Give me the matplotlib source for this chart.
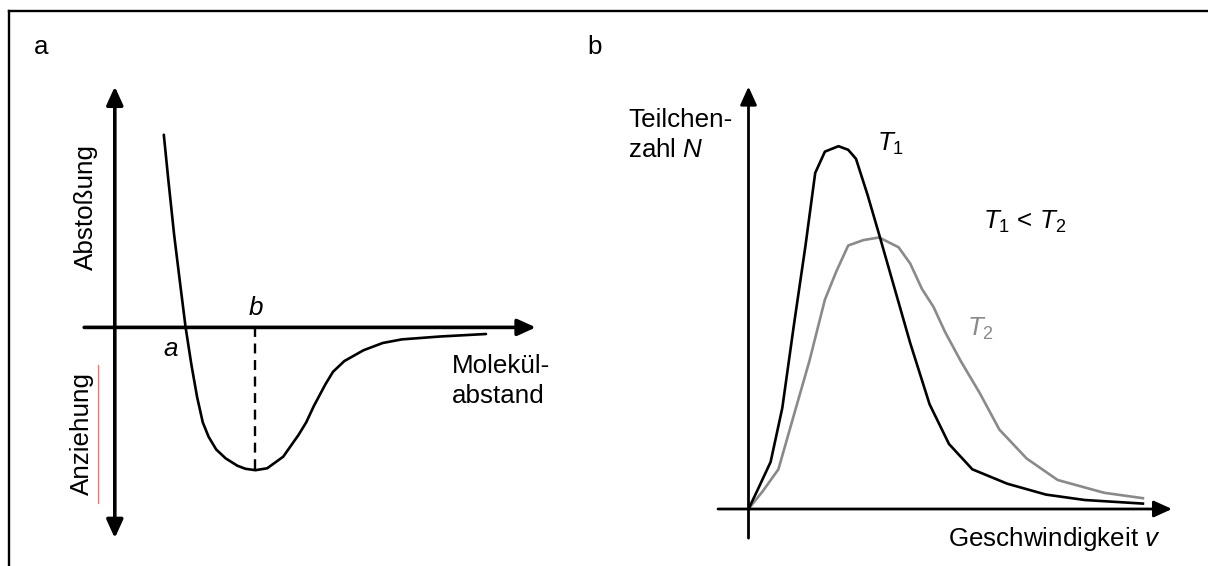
import matplotlib
matplotlib.use("Agg")
import matplotlib.pyplot as plt
from matplotlib.lines import Line2D

plt.rcParams["font.family"] = ["Liberation Sans", "DejaVu Sans"]
plt.rcParams["mathtext.fontset"] = "custom"
plt.rcParams["mathtext.rm"] = "Liberation Sans"
plt.rcParams["mathtext.it"] = "Liberation Sans:italic"

# ---- Panel a: potential energy versus molecular distance (arbitrary units)
r_pot = [1.164, 1.273, 1.409, 1.546, 1.682, 1.819, 1.955, 2.090, 2.228, 2.409,
         2.637, 2.910, 3.10, 3.34, 3.62, 4.000, 4.363, 4.546, 4.727, 5.000,
         5.183, 5.454, 5.910, 6.363, 6.817, 7.727, 8.817]
E_pot = [8.00, 6.10, 3.85, 1.90, 0.00, -1.545, -2.894, -3.945, -4.543, -5.071,
         -5.444, -5.743, -5.87, -5.93, -5.85, -5.370, -4.468, -3.945, -3.268, -2.371,
         -1.844, -1.395, -0.947, -0.648, -0.498, -0.378, -0.274]
r_b = 3.34          # distance of the potential minimum
E_b_line = -6.12    # lower end of the marker line at r_b

# ---- Panel b: speed distributions for two temperatures (arbitrary units)
v_T1 = [0.0, 0.203, 0.522, 0.798, 1.072, 1.346, 1.575, 1.804, 2.125, 2.354,
        2.538, 2.812, 3.086, 3.452, 3.818, 4.276, 4.734, 5.285, 6.109, 7.025,
        7.939, 9.313]
N_T1 = [0.0, 0.426, 1.113, 2.391, 4.356, 6.238, 7.955, 8.461, 8.589, 8.504,
        8.291, 7.434, 6.494, 5.213, 3.930, 2.479, 1.539, 0.940, 0.599, 0.341,
        0.213, 0.128]
v_T2 = [0.0, 0.340, 0.706, 1.072, 1.438, 1.804, 2.080, 2.354, 2.720, 3.086,
        3.544, 3.818, 4.094, 4.368, 4.642, 5.011, 5.466, 5.924, 6.567, 7.299,
        8.397, 9.313]
N_T2 = [0.0, 0.426, 0.940, 2.225, 3.504, 4.957, 5.639, 6.238, 6.368, 6.428,
        6.196, 5.812, 5.213, 4.785, 4.190, 3.504, 2.734, 1.880, 1.196, 0.687,
        0.384, 0.256]

W, H = 1208, 566
fig = plt.figure(figsize=(W / 100, H / 100), dpi=100)
FS = 18.7
GRAY = "#8a8a8a"


def panel_axes(box, origin, scale):
    """Axes over a pixel box, with data (0, 0) at the given pixel origin."""
    l, t, r, b = box
    ax = fig.add_axes([l / W, 1 - b / H, (r - l) / W, (b - t) / H])
    ox, oy = origin
    sx, sy = scale
    ax.set_xlim((l - ox) / sx, (r - ox) / sx)
    ax.set_ylim((oy - b) / sy, (oy - t) / sy)
    ax.axis("off")
    return ax


def arrow(ax, start, end, style="-|>", lw=2.5):
    ax.annotate("", xy=end, xytext=start, annotation_clip=False,
                arrowprops=dict(arrowstyle=f"{style},head_length=0.55,head_width=0.25",
                                lw=lw, color="black", shrinkA=0, shrinkB=0,
                                mutation_scale=20))


# Outer frame (top and left edges)
fig.add_artist(Line2D([8.5 / W, 1.01], [1 - 10.5 / H] * 2, color="black", lw=1.7,
                      transform=fig.transFigure))
fig.add_artist(Line2D([8.5 / W] * 2, [1 - 10.5 / H, -0.01], color="black", lw=1.7,
                      transform=fig.transFigure))

# Panel labels
fig.text(34 / W, 1 - 54.3 / H, "a", fontsize=FS, ha="left", va="baseline")
fig.text(587 / W, 1 - 54.3 / H, "b", fontsize=FS, ha="left", va="baseline")

# ---------------- Panel a ----------------
axa = panel_axes((60, 60, 560, 560), (114.8, 327.4), (42.1, 24.08))
arrow(axa, (0, -8.75), (0, 10.0), style="<|-|>", lw=2.6)
arrow(axa, (-0.727, 0), (10.0, 0), lw=2.6)
axa.plot(r_pot, E_pot, color="black", lw=1.9, solid_joinstyle="round",
         solid_capstyle="round", clip_on=False)
axa.plot([r_b, r_b], [0, E_b_line], color="black", lw=1.7, dashes=(4.2, 2.8),
         clip_on=False)

axa.text(r_b, 0.515, "b", fontsize=FS, style="italic", ha="center", va="baseline")
axa.text(1.328, -1.188, "a", fontsize=FS, style="italic", ha="center", va="baseline")
axa.text(8.002, -1.906, "Molekül-", fontsize=FS, ha="left", va="baseline")
axa.text(8.002, -3.152, "abstand", fontsize=FS, ha="left", va="baseline")
axa.text(-0.512, 5.01, "Abstoßung", fontsize=FS, rotation=90, rotation_mode="anchor",
         ha="center", va="baseline")
axa.text(-0.622, -4.406, "Anziehung", fontsize=FS, rotation=90, rotation_mode="anchor",
         ha="center", va="baseline")
axa.plot([-0.39, -0.39], [-1.561, -7.292], color="#f07a7a", lw=0.9, clip_on=False)

# ---------------- Panel b ----------------
axb = panel_axes((600, 60, 1200, 560), (748.5, 509.0), (42.35, 42.24))
arrow(axb, (0, -0.69), (0, 10.0), lw=2.0)
arrow(axb, (-0.72, 0), (10.0, 0), lw=2.0)
axb.plot(v_T2, N_T2, color=GRAY, lw=1.9, solid_joinstyle="round", clip_on=False)
axb.plot(v_T1, N_T1, color="black", lw=1.9, solid_joinstyle="round", clip_on=False)

axb.text(-2.838, 9.051, "Teilchen-", fontsize=FS, ha="left", va="baseline")
axb.text(-2.838, 8.340, "zahl $N$", fontsize=FS, ha="left", va="baseline")
axb.text(3.027, 8.483, "$T_1$", fontsize=FS, ha="left", va="baseline")
axb.text(5.544, 6.645, "$T_1$ < $T_2$", fontsize=FS, ha="left", va="baseline")
axb.text(5.148, 4.096, "$T_2$", fontsize=FS, color=GRAY, ha="left", va="baseline")
axb.text(4.718, -0.876, "Geschwindigkeit $v$", fontsize=FS, ha="left", va="baseline")

fig.savefig("out.png", dpi=100, facecolor="white")
